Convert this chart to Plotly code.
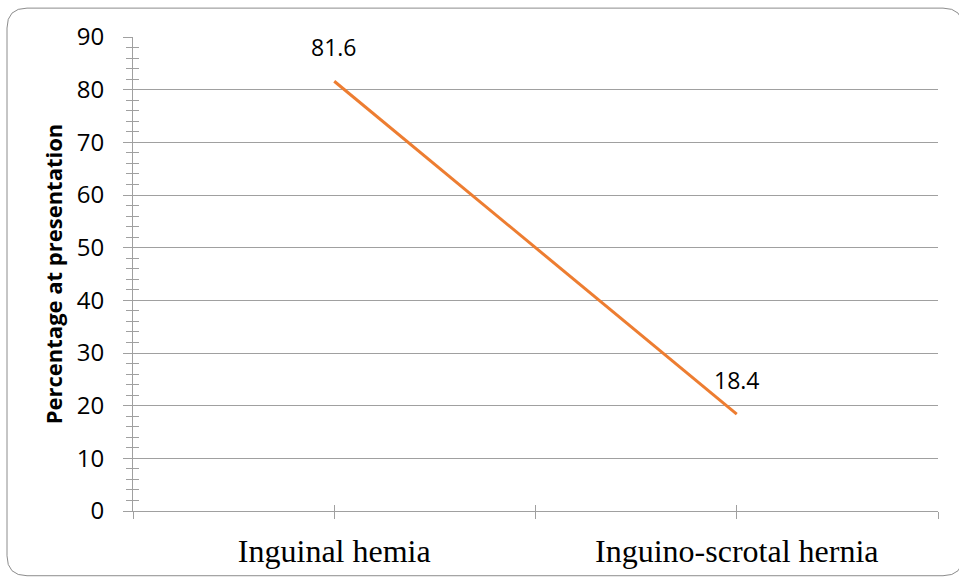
import plotly.graph_objects as go

categories = ["Inguinal hemia", "Inguino-scrotal hernia"]
values = [81.6, 18.4]
value_labels = ["81.6", "18.4"]
y_title = "Percentage at presentation"

W, H = 959, 581
L, R, T, B = 133, 21, 37, 68

n = len(categories)
xpos = [2 * i + 1 for i in range(n)]
tickvals = list(range(0, 2 * n + 1))
ticktext = [""] * len(tickvals)
for i, c in enumerate(categories):
    ticktext[2 * i + 1] = c

GRID = "#a0a0a0"
ORANGE = "#ED7D31"

fig = go.Figure()
fig.add_trace(go.Scatter(
    x=xpos, y=values, mode="lines",
    line=dict(color=ORANGE, width=3),
    hoverinfo="skip", showlegend=False,
))
# invisible trace to activate overlay axes (inside half of cross ticks)
fig.add_trace(go.Scatter(
    x=xpos, y=values, mode="lines", xaxis="x2", yaxis="y2",
    line=dict(color="rgba(0,0,0,0)", width=0),
    hoverinfo="skip", showlegend=False,
))

for xv, yv, lab in zip(xpos, values, value_labels):
    fig.add_annotation(
        x=xv, y=yv, text=lab, showarrow=False, yshift=34,
        font=dict(family="Open Sans", size=23, color="#000000"),
    )

# rounded border
px = lambda p: (p - L) / (W - L - R)
py = lambda p: (H - B - p) / (H - T - B)
x0, x1, y0, y1 = 7, 963, 8, 578
r = 20
rx = r / (W - L - R)
ry = r / (H - T - B)
X0, X1, Y0, Y1 = px(x0), px(x1), py(y0), py(y1)
path = (f"M {X0+rx} {Y0} L {X1-rx} {Y0} Q {X1} {Y0} {X1} {Y0-ry} "
        f"L {X1} {Y1+ry} Q {X1} {Y1} {X1-rx} {Y1} "
        f"L {X0+rx} {Y1} Q {X0} {Y1} {X0} {Y1+ry} "
        f"L {X0} {Y0-ry} Q {X0} {Y0} {X0+rx} {Y0} Z")
fig.add_shape(type="path", path=path, xref="paper", yref="paper",
              line=dict(color="#8c8c8c", width=1), layer="below")

fig.update_layout(
    width=W, height=H,
    margin=dict(l=L, r=R, t=T, b=B, pad=0),
    paper_bgcolor="white", plot_bgcolor="white",
    showlegend=False,
    xaxis=dict(
        range=[0, 2 * n], tickvals=tickvals, ticktext=ticktext,
        ticks="outside", ticklen=7, tickcolor=GRID, tickwidth=1,
        showline=True, linecolor=GRID, linewidth=1,
        showgrid=False, zeroline=False,
        tickfont=dict(family="Liberation Serif", size=32, color="#000000"),
        ticklabelstandoff=5,
    ),
    yaxis=dict(
        range=[0, 90], dtick=10, tick0=0,
        ticks="outside", ticklen=9, tickcolor=GRID, tickwidth=1,
        showline=True, linecolor=GRID, linewidth=1,
        showgrid=True, gridcolor=GRID, gridwidth=1,
        zeroline=False,
        minor=dict(dtick=2, ticks="outside", ticklen=6, tickcolor=GRID, showgrid=False),
        tickfont=dict(family="Open Sans", size=24, color="#000000"),
        ticklabelstandoff=14,
        title=dict(text=y_title, standoff=8,
                   font=dict(family="Open Sans", size=22, color="#000000", weight="bold")),
    ),
    xaxis2=dict(
        range=[0, 2 * n], tickvals=tickvals, ticktext=[""] * len(tickvals),
        overlaying="x", anchor="y2", side="bottom",
        ticks="inside", ticklen=6, tickcolor=GRID, tickwidth=1,
        showline=False, showgrid=False, zeroline=False, showticklabels=False,
    ),
    yaxis2=dict(
        range=[0, 90], dtick=10, tick0=0,
        overlaying="y", anchor="x2", side="left",
        ticks="inside", ticklen=6, tickcolor=GRID, tickwidth=1,
        minor=dict(dtick=2, ticks="inside", ticklen=6, tickcolor=GRID, showgrid=False),
        showline=False, showgrid=False, zeroline=False, showticklabels=False,
    ),
)

fig.write_html("out.html")
